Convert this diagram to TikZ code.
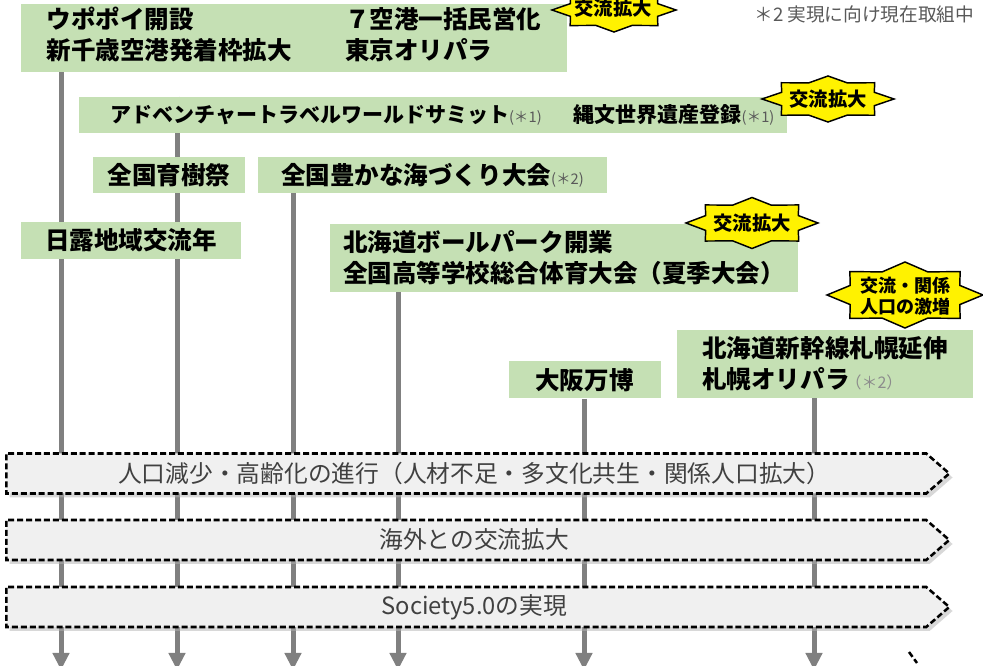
\documentclass[tikz,border=0pt]{standalone}
\usepackage{fontspec}
\setmainfont{Noto Sans CJK JP}
\usetikzlibrary{shapes.symbols, arrows.meta, backgrounds, shadows}
\definecolor{eventcolor}{RGB}{197,224,180}
\definecolor{trendcolor}{RGB}{240,240,240}
\definecolor{linecolor}{RGB}{128,128,128}
\definecolor{notecolor}{RGB}{89,89,89}

% yellow burst behind a label: centre, x radius, y radius
\newcommand\burstshape[3]{%
  \filldraw[burst, shift={#1}] (0:#2 and #3)
    \foreach \a/\r in {22.5/.76, 45/1, 67.5/.76, 90/1, 112.5/.76, 135/1, 157.5/.76, 180/1,
                       202.5/.76, 225/1, 247.5/.76, 270/1, 292.5/.76, 315/1, 337.5/.76}
      { -- (\a:{\r*#2} and {\r*#3}) } -- cycle;}
\newcommand\ann[1]{{\fontsize{11}{13}\selectfont\mdseries\color{notecolor}#1}}

\begin{document}
\begin{tikzpicture}[
    x=0.75pt, y=-0.75pt,
    evbox/.style={fill=eventcolor, align=left, inner sep=0pt, font=\fontsize{18.4}{23.2}\selectfont\bfseries},
    trend/.style={signal, signal to=east, signal pointer angle=82, draw, line width=1.9pt,
        dash pattern=on 4.5pt off 2.2pt, fill=trendcolor, minimum width=707.25pt, minimum height=30pt,
        inner sep=0pt, text=black!75, font=\fontsize{17.8}{20}\selectfont, anchor=west,
        drop shadow={shadow xshift=2.5pt, shadow yshift=-3pt, fill=black!30, opacity=0.5}},
    timeline/.style={draw=linecolor, line width=3.75pt, -{Triangle[length=12.75pt, width=12pt]}},
    burst/.style={fill=yellow, draw=black, line width=1.1pt, line join=miter},
    bursttext/.style={font=\fontsize{14.5}{16}\selectfont\bfseries, align=center, inner sep=0pt}
]
    \useasboundingbox (0,0) rectangle (983,666);

    % Events
    \node[evbox, minimum width=409.5pt, minimum height=51pt] (upopoy) at (294,38)
        {\begin{tabular}{@{}l@{\hspace{40pt}}l@{}}ウポポイ開設 & ７空港一括民営化\\ 新千歳空港発着枠拡大 & 東京オリパラ\end{tabular}};
    \node[evbox, minimum width=531pt, minimum height=27pt, font=\fontsize{15.75}{20}\selectfont\bfseries] (atws) at (433,115)
        {\hspace*{14pt}アドベンチャートラベルワールドサミット\ann{(＊1)}\hspace{24pt}縄文世界遺産登録\ann{(＊1)}};
    \node[evbox, minimum width=114pt, minimum height=27pt] (ikuju) at (169,175) {全国育樹祭};
    \node[evbox, minimum width=261.75pt, minimum height=27pt] (umi) at (432.5,175) {全国豊かな海づくり大会\ann{(＊2)}};
    \node[evbox, minimum width=165pt, minimum height=27.75pt] (nichiro) at (131,240.5) {日露地域交流年};
    \node[evbox, minimum width=351pt, minimum height=51pt] (ballpark) at (564,258)
        {北海道ボールパーク開業\\全国高等学校総合体育大会（夏季大会）};
    \node[evbox, minimum width=114pt, minimum height=27.75pt] (expo) at (584.5,380) {大阪万博};
    \node[evbox, minimum width=222pt, minimum height=51pt] (shinkansen) at (825,364)
        {北海道新幹線札幌延伸\\札幌オリパラ{\fontsize{12}{14}\selectfont\mdseries\color{black!45}\hspace{-3pt}（＊2）}};

    % Note
    \node[anchor=east, text=notecolor, font=\fontsize{14}{16}\selectfont] (note) at (979,14) {＊2 実現に向け現在取組中};

    % Bursts
    \burstshape{(614,10)}{62}{22}
    \node[bursttext] (burstA) at (613,8) {交流拡大};
    \burstshape{(828,99)}{66}{23}
    \node[bursttext] (burstB) at (828,99) {交流拡大};
    \burstshape{(752,223)}{66}{25.5}
    \node[bursttext] (burstC) at (752,223) {交流拡大};
    \burstshape{(905,295)}{78}{33}
    \node[bursttext, font=\fontsize{13.5}{15.75}\selectfont\bfseries] (burstD) at (905,296) {交流・関係\\人口の激増};

    % Trends
    \node[trend] (aging) at (5,473.5) {\hspace*{12pt}人口減少・高齢化の進行（人材不足・多文化共生・関係人口拡大）};
    \node[trend] (overseas) at (5,540) {\hspace*{12pt}海外との交流拡大};
    \node[trend] (society) at (5,607) {\hspace*{12pt}Society5.0の実現};

    % Time lines
    \coordinate (endA) at (61,670);
    \coordinate (endB) at (177,670);
    \coordinate (endC) at (293,670);
    \coordinate (endD) at (398,670);
    \coordinate (endE) at (584,670);
    \coordinate (endF) at (814,670);
    \begin{scope}[on background layer]
        \draw[timeline] (upopoy.south -| endA) -- (endA);
        \draw[timeline] (atws.north -| endB) -- (endB);
        \draw[timeline] (umi.south -| endC) -- (endC);
        \draw[timeline] (ballpark.south -| endD) -- (endD);
        \draw[timeline] (expo.south -| endE) -- (endE);
        \draw[timeline] (shinkansen.south -| endF) -- (endF);
    \end{scope}

    \draw[line width=1.9pt, dash pattern=on 4.5pt off 2.2pt] (909,652) -- (917,663);
\end{tikzpicture}
\end{document}
